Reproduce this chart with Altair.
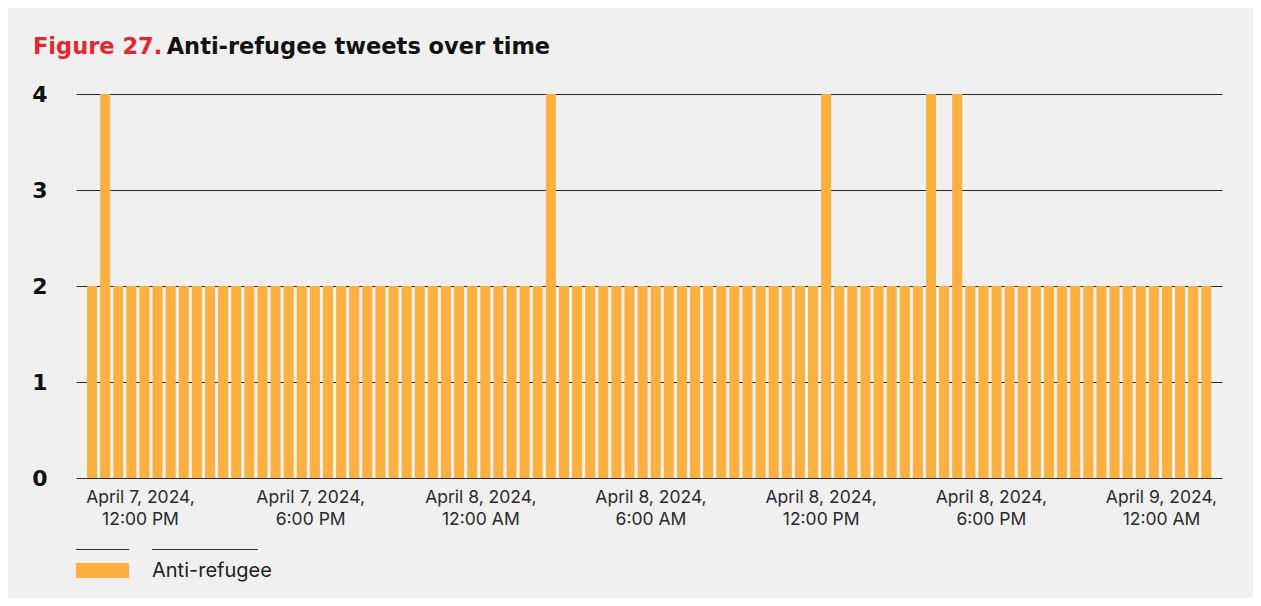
import altair as alt
import pandas as pd

# ---- data ----
counts = [2, 4, 2, 2, 2, 2, 2, 2, 2, 2, 2, 2, 2, 2, 2, 2, 2, 2, 2, 2,
          2, 2, 2, 2, 2, 2, 2, 2, 2, 2, 2, 2, 2, 2, 2, 4, 2, 2, 2, 2,
          2, 2, 2, 2, 2, 2, 2, 2, 2, 2, 2, 2, 2, 2, 2, 2, 4, 2, 2, 2,
          2, 2, 2, 2, 4, 2, 4, 2, 2, 2, 2, 2, 2, 2, 2, 2, 2, 2, 2, 2,
          2, 2, 2, 2, 2, 2]
first_bin = "2024-04-07 10:18:30"
bin_step = "1664s"
series_name = "Anti-refugee"
tick_times = [(2024, 4, 7, 12), (2024, 4, 7, 18), (2024, 4, 8, 0), (2024, 4, 8, 6),
              (2024, 4, 8, 12), (2024, 4, 8, 18), (2024, 4, 9, 0)]
y_ticks = [0, 1, 2, 3, 4]
title_red = "Figure 27."
title_black = "Anti-refugee tweets over time"

times = pd.date_range(first_bin, periods=len(counts), freq=bin_step)
df = pd.DataFrame({
    "time": times.strftime("%Y-%m-%dT%H:%M:%S"),
    "count": counts,
    "series": series_name,
})

FONT = "Inter"
BOLD_FONT = "DejaVu Sans"
BG = "#f0f0f0"
W, H = 1146, 384

x_domain = [alt.DateTime(year=2024, month=4, date=7, hours=9, minutes=44, seconds=36),
            alt.DateTime(year=2024, month=4, date=9, hours=2, minutes=9, seconds=3)]
tick_vals = [alt.DateTime(year=y, month=m, date=d, hours=h) for (y, m, d, h) in tick_times]

bars = alt.Chart(df).mark_bar(size=10).encode(
    x=alt.X("time:T", title=None,
            scale=alt.Scale(domain=x_domain, nice=False, padding=0),
            axis=alt.Axis(values=tick_vals, grid=False, domain=False, ticks=False, tickSize=0,
                          labelExpr="[timeFormat(datum.value, '%B %-d, %Y,'), timeFormat(datum.value, '%-I:%M %p')]",
                          labelFont=FONT, labelFontSize=17.5, labelColor="#2a2a2a",
                          labelPadding=10, labelLineHeight=22, labelOverlap=False)),
    y=alt.Y("count:Q", title=None,
            scale=alt.Scale(domain=[0, 4], nice=False, padding=0),
            axis=alt.Axis(values=y_ticks, grid=True, gridColor="#2a2a2a", gridWidth=1, gridOpacity=1,
                          domain=False, ticks=False, tickSize=0,
                          labelFont=BOLD_FONT, labelFontSize=22, labelFontWeight="bold",
                          labelColor="#111111", labelPadding=29)),
    color=alt.Color("series:N", title=None,
                    scale=alt.Scale(range=["#fbb040"]),
                    legend=alt.Legend(orient="none", legendX=0, legendY=450,
                                      symbolType="M-1,-0.283H1V0.283H-1Z", symbolSize=2809,
                                      symbolStrokeWidth=0, symbolOpacity=1,
                                      labelFont=FONT, labelFontSize=20, labelColor="#222222",
                                      labelOffset=23, padding=0)),
)

one = pd.DataFrame({"k": [0]})
rule1 = alt.Chart(one).mark_rule(color="#333333", strokeWidth=1).encode(
    x=alt.value(0), x2=alt.value(53), y=alt.value(455.5))
rule2 = alt.Chart(one).mark_rule(color="#333333", strokeWidth=1).encode(
    x=alt.value(76), x2=alt.value(182), y=alt.value(455.5))

t1 = alt.Chart(one).mark_text(text=title_red, font=BOLD_FONT, fontSize=22.5, fontWeight="bold",
                              color="#e8252f", align="left", baseline="alphabetic").encode(
    x=alt.value(-43), y=alt.value(-40.5))
t2 = alt.Chart(one).mark_text(text=title_black, font=BOLD_FONT, fontSize=22.5, fontWeight="bold",
                              color="#111111", align="left", baseline="alphabetic").encode(
    x=alt.value(90.7), y=alt.value(-40.5))

chart = alt.layer(bars, rule1, rule2, t1, t2).properties(
    width=W, height=H,
    autosize="none",
    padding={"left": 68, "top": 86, "right": 31, "bottom": 120},
    background=BG,
).configure_view(stroke=None)

chart.save("out.html", embed_options={"renderer": "svg", "actions": False})
